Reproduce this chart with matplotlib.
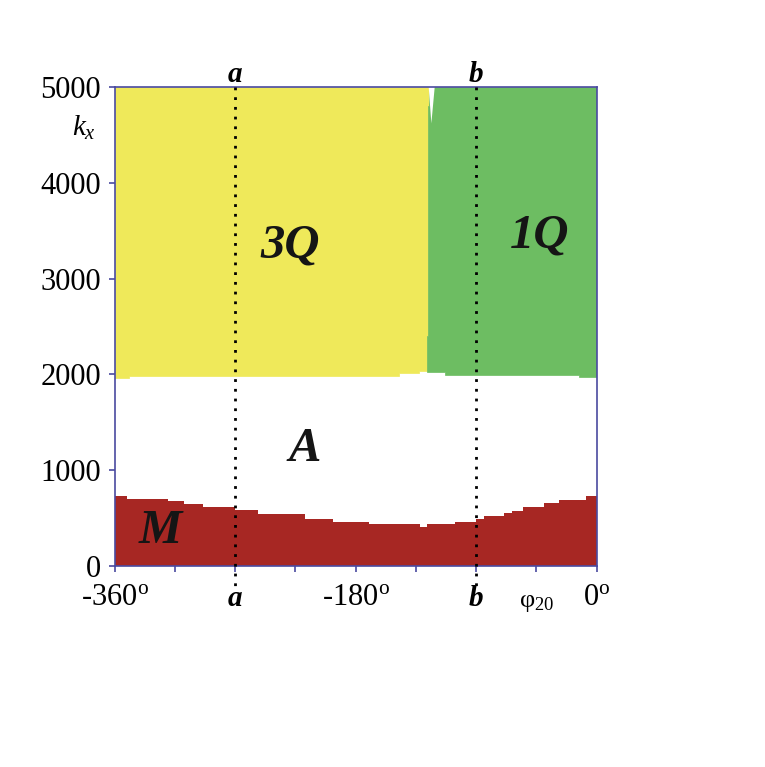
import matplotlib
matplotlib.use("Agg")
import matplotlib.pyplot as plt
import numpy as np

plt.rcParams['font.family'] = ['Liberation Serif', 'DejaVu Serif']
plt.rcParams['mathtext.fontset'] = 'custom'
plt.rcParams['mathtext.rm'] = 'Liberation Serif'
plt.rcParams['mathtext.it'] = 'Liberation Serif:italic'

# M phase upper boundary (step function): bin edges in phi20 (deg) and k_x heights
m_edges = [-360, -351, -320, -308, -294, -270, -253, -218, -197, -170, -132, -127, -106,
           -90, -84, -69, -63, -55, -39, -28, -8, 0]
m_heights = [734, 696, 678, 647, 619, 585, 540, 490, 456, 435, 404, 435,
             456, 490, 522, 550, 577, 619, 661, 689, 734]

# 3Q phase lower boundary (step)
q3_edges = [-360, -349, -148, -133, -127]
q3_heights = [1960, 1980, 2010, 2040]
# 1Q phase lower boundary (step)
q1_edges = [-127, -113, -13, 0]
q1_heights = [2025, 1995, 1975]
# 3Q / 1Q boundary phi at given k_x
qb_k = [2040, 2400, 2400, 4800, 4800, 5000]
qb_phi = [-127, -127, -126, -126, -125, -125]

k_top = 5000
line_a = -270
line_b = -90

yellow = '#efe95a'
green = '#6dbd62'
red = '#a72723'
spine = '#4a4aa0'

fig = plt.figure(figsize=(7.65, 7.67), dpi=100)
ax = fig.add_axes([0.150, 0.262, 0.630, 0.6246])
ax.set_xlim(-360, 0)
ax.set_ylim(0, 5000)

# M region
ax.stairs(m_heights, m_edges, baseline=0, fill=True, color=red, lw=0)

# 3Q region (yellow)
xs, ys = [], []
for i in range(len(q3_heights)):
    xs += [q3_edges[i], q3_edges[i + 1]]
    ys += [q3_heights[i], q3_heights[i]]
poly_x = xs + qb_phi + [-360]
poly_y = ys + qb_k + [k_top]
ax.fill(poly_x, poly_y, color=yellow, lw=0.5, ec=yellow)

# 1Q region (green)
gx, gy = [], []
for i in range(len(q1_heights)):
    gx += [q1_edges[i], q1_edges[i + 1]]
    gy += [q1_heights[i], q1_heights[i]]
gpx = gx + [0] + qb_phi[::-1] + [-127]
gpy = gy + [k_top] + qb_k[::-1] + [2025]
ax.fill(gpx, gpy, color=green, lw=0.5, ec=green)
# small white notch at top of the boundary
ax.fill([-125.5, -121, -123.5], [5000, 5000, 4620], color='white', lw=0)

# dotted lines
for xl in (line_a, line_b):
    ax.plot([xl, xl], [k_top, -250], color='black', ls=(0, (1, 2.5)), lw=2.0,
            clip_on=False, zorder=5)

for s in ax.spines.values():
    s.set_color(spine)
    s.set_linewidth(1.2)

ax.set_xticks(np.arange(-360, 1, 45))
ax.set_xticklabels([])
ax.set_yticks(np.arange(0, 5001, 1000))
ax.set_yticklabels(['0', '1000', '2000', '3000', '4000', '5000'], fontsize=22)
ax.tick_params(axis='both', color=spine, length=4, width=1.2, direction='out')
ax.tick_params(axis='y', pad=6)

ty = -330
for xv, lab in [(-360, r'-360$^{\mathrm{o}}$'), (-180, r'-180$^{\mathrm{o}}$'), (0, r'0$^{\mathrm{o}}$')]:
    ax.text(xv, ty, lab, fontsize=22, ha='center', va='center')
ax.text(-45, -390, r'$\mathrm{\varphi}_{20}$', fontsize=19, ha='center', va='center')

for xv, lab in [(line_a, 'a'), (line_b, 'b')]:
    ax.text(xv, ty - 10, lab, fontsize=21, ha='center', va='center', style='italic', weight='bold')
    ax.text(xv, 5130, lab, fontsize=21, ha='center', va='center', style='italic', weight='bold')

ax.text(-374, 4570, r'$k_x$', fontsize=21, ha='right', va='center')

rfs = 35
tc = '#151515'
ax.text(-229, 3350, '3Q', fontsize=rfs, ha='center', va='center', style='italic', weight='bold', color=tc)
ax.text(-43, 3450, '1Q', fontsize=rfs, ha='center', va='center', style='italic', weight='bold', color=tc)
ax.text(-218, 1220, 'A', fontsize=rfs, ha='center', va='center', style='italic', weight='bold', color=tc)
ax.text(-326, 370, 'M', fontsize=rfs, ha='center', va='center', style='italic', weight='bold', color=tc)

fig.savefig('out.png', dpi=100)
